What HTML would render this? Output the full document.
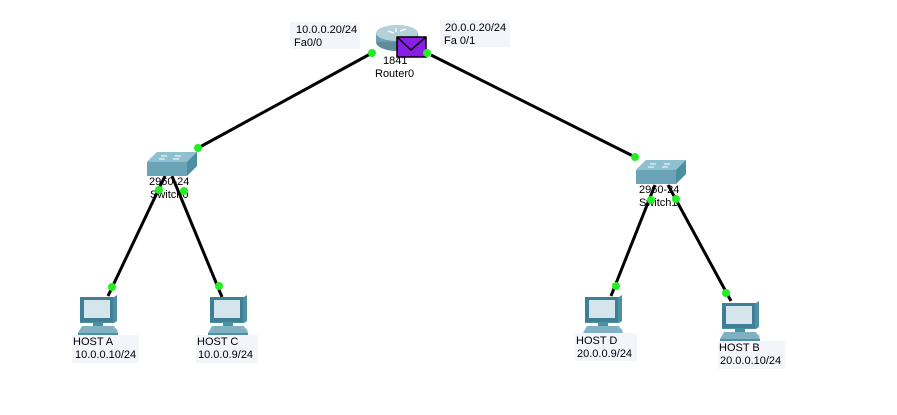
<!DOCTYPE html>
<html><head><meta charset="utf-8"><style>
body{margin:0;background:#fff;}
svg{display:block;font-family:"Liberation Sans",sans-serif;font-size:11px;}
</style></head><body>
<svg width="897" height="415" viewBox="0 0 897 415" xmlns="http://www.w3.org/2000/svg">
<defs>
<g id="host">
 <path d="M2 2 L36 2 L39 0 L39 26 L36 28 L2 28 Z" fill="#4d8fa3"/>
 <rect x="2" y="2" width="33" height="25" fill="#3f7f95"/>
 <rect x="6" y="5" width="26" height="18" fill="#d4e6ec"/>
 <rect x="15" y="27" width="10" height="4" fill="#4d8fa3"/>
 <path d="M0 38 L4 31 L36 31 L40 38 Z" fill="#7fb1c2"/>
 <path d="M0 38 L40 38 L40 40 L0 40 Z" fill="#4d8fa3"/>
 <path d="M34 33 q6 0 5 5" stroke="#9bb" fill="none"/>
</g>
<g id="sw">
 <path d="M0 10 L10 0 L50 0 L50 14 L40 24 L0 24 Z" fill="#4f8da0"/>
 <path d="M0 10 L10 0 L50 0 L40 10 Z" fill="#8fc0cf"/>
 <rect x="0" y="10" width="40" height="14" fill="#6aa4b6"/>
 <path d="M14 4 h6 M28 4 h6 M12 7 h6 M26 7 h6" stroke="#e8f4f8" stroke-width="1.2"/>
</g>
</defs>
<g stroke="#000" stroke-width="3" fill="none">
<line x1="372" y1="53" x2="198" y2="148"/>
<line x1="431" y1="55" x2="635" y2="157"/>
<line x1="165" y1="176" x2="108" y2="296"/>
<line x1="172" y1="176" x2="222" y2="297"/>
<line x1="655" y1="185" x2="611" y2="296"/>
<line x1="668" y1="185" x2="731" y2="301"/>
</g>
<!-- router -->
<ellipse cx="397" cy="42" rx="21" ry="9" fill="#5e8c9a"/>
<rect x="376" y="33" width="42" height="9" fill="#6f9fae"/>
<ellipse cx="397" cy="33" rx="21" ry="8" fill="#b4d0d9"/>
<path d="M388 31 l6 2 M400 31 l6 -2 M396 28 v4" stroke="#fff" stroke-width="1.3"/>
<rect x="397" y="37" width="29" height="20" fill="#8b1ee6" stroke="#000" stroke-width="1.5"/>
<path d="M397 37 L411 50 L426 37" stroke="#000" stroke-width="1.5" fill="none"/>
<rect x="290" y="22" width="70" height="27" fill="#f3f5fb"/>
<rect x="440" y="20" width="70" height="27" fill="#f3f5fb"/>
<text x="296" y="33">10.0.0.20/24</text><text x="294" y="46">Fa0/0</text>
<text x="445" y="31">20.0.0.20/24</text><text x="444" y="44">Fa 0/1</text>
<text x="383" y="64">1841</text><text x="375" y="77">Router0</text>
<!-- switches -->
<use href="#sw" x="147" y="152"/>
<use href="#sw" x="636" y="160"/>
<text x="149" y="185">2960-24</text><text x="150" y="198">Switch0</text>
<text x="639" y="193">2960-24</text><text x="639" y="206">Switch1</text>
<!-- hosts -->
<use href="#host" x="78" y="295"/>
<use href="#host" x="208" y="295"/>
<use href="#host" x="583" y="295"/>
<use href="#host" x="720" y="301"/>
<rect x="72" y="335" width="67" height="28" fill="#f3f5fb"/>
<rect x="196" y="335" width="62" height="28" fill="#f3f5fb"/>
<rect x="575" y="333" width="62" height="28" fill="#f3f5fb"/>
<rect x="718" y="341" width="67" height="28" fill="#f3f5fb"/>
<text x="73" y="345">HOST A</text><text x="75" y="358">10.0.0.10/24</text>
<text x="197" y="345">HOST C</text><text x="198" y="358">10.0.0.9/24</text>
<text x="576" y="344">HOST D</text><text x="577" y="357">20.0.0.9/24</text>
<text x="719" y="351">HOST B</text><text x="720" y="364">20.0.0.10/24</text>
<!-- dots -->
<g fill="#22ee22">
<circle cx="372" cy="53" r="4"/><circle cx="427" cy="53" r="4"/>
<circle cx="198" cy="148" r="4"/><circle cx="635" cy="157" r="4"/>
<circle cx="159" cy="190" r="4"/><circle cx="184" cy="191" r="4"/>
<circle cx="651" cy="200" r="4"/><circle cx="676" cy="199" r="4"/>
<circle cx="112" cy="287" r="4"/><circle cx="219" cy="286" r="4"/>
<circle cx="616" cy="286" r="4"/><circle cx="726" cy="293" r="4"/>
</g>
</svg>
</body></html>
